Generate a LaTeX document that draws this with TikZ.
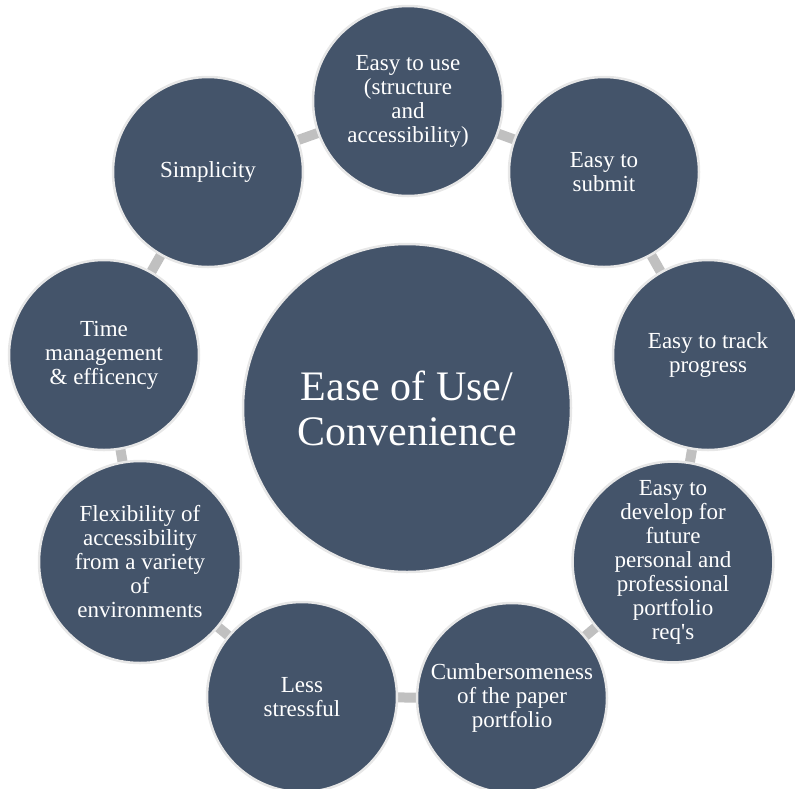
\documentclass[tikz,border=0pt]{standalone}
\usepackage{fontspec}
\setmainfont{Liberation Serif}[Ligatures=TeXOff]
\usetikzlibrary{backgrounds}
\definecolor{bubble}{HTML}{44546A}
\definecolor{rim}{HTML}{E7E7E7}
\definecolor{bar}{HTML}{C0C0C0}
\begin{document}
\begin{tikzpicture}[x=1pt,y=-1pt,
  bub/.style={circle,fill=bubble,draw=rim,line width=2.5pt,text=white,align=center,inner sep=0pt,minimum size=190pt,font=\fontsize{23}{24}\selectfont},
  hub/.style={bub,minimum size=328pt,font=\fontsize{42}{45}\selectfont},
  link/.style={draw=bar,line width=10pt}]
\clip (0,0) rectangle (795,788);
\useasboundingbox (0,0) rectangle (795,788);
\node[hub] (c) at (407,408) {Ease of Use/\\Convenience};
\node[bub] (n1) at (408,101) {Easy to use\\(structure\\and\\accessibility)};
\node[bub] (n2) at (604,172) {Easy to\\submit};
\node[bub] (n3) at (708,355) {Easy to track\\progress};
\node[bub] (n4) at (673,562) {Easy to\\develop for\\future\\personal and\\professional\\portfolio\\req's};
\node[bub] (n5) at (512,698) {Cumbersomeness\\of the paper\\portfolio};
\node[bub] (n6) at (302,697) {Less\\stressful};
\node[bub,minimum size=202pt] (n7) at (140,562) {Flexibility of\\accessibility\\from a variety\\of\\environments};
\node[bub] (n8) at (104,355) {Time\\management\\\& efficency};
\node[bub] (n9) at (208,172) {Simplicity};
\begin{scope}[on background layer]
\draw[link] (n1.center) -- (n2.center);
\draw[link] (n2.center) -- (n3.center);
\draw[link] (n3.center) -- (n4.center);
\draw[link] (n4.center) -- (n5.center);
\draw[link] (n5.center) -- (n6.center);
\draw[link] (n6.center) -- (n7.center);
\draw[link] (n7.center) -- (n8.center);
\draw[link] (n8.center) -- (n9.center);
\draw[link] (n9.center) -- (n1.center);
\end{scope}
\end{tikzpicture}
\end{document}
